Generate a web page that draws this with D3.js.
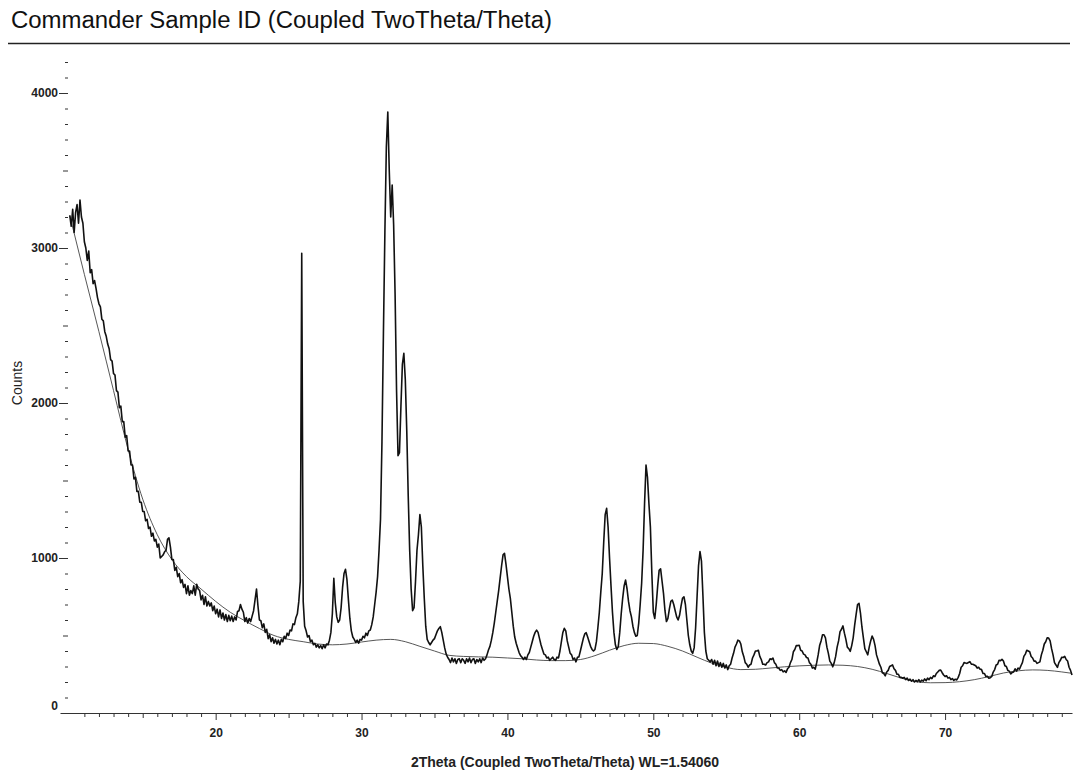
<!DOCTYPE html>
<html>
<head>
<meta charset="utf-8">
<script src="https://cdn.jsdelivr.net/npm/d3@7"></script>
<style>
body { margin: 0; background: #fff; }
svg { display: block; font-family: "Liberation Sans", Arial, sans-serif; }
</style>
</head>
<body>
<div id="chart"></div>
<script>
// scan settings (degrees 2Theta)
var scanStart = 10.0,
    scanStep = 0.1;

// measured counts, one row per degree (x.0 ... x.9)
var counts = [
  3210, 3140, 3250, 3100, 3230, 3280, 3160, 3310, 3200, 3160, // 10
  3040, 3000, 2920, 2980, 2840, 2860, 2770, 2790, 2740, 2680, // 11
  2640, 2620, 2540, 2530, 2460, 2430, 2380, 2350, 2280, 2270, // 12
  2190, 2180, 2080, 2070, 1970, 1980, 1880, 1880, 1780, 1790, // 13
  1690, 1690, 1600, 1600, 1510, 1520, 1430, 1430, 1360, 1360, // 14
  1300, 1300, 1240, 1250, 1190, 1200, 1140, 1160, 1110, 1120, // 15
  1070, 1090, 1000, 1010, 1020, 1040, 1050, 1120, 1130, 1070, // 16
  990, 990, 920, 940, 880, 900, 840, 860, 810, 830,           // 17
  770, 820, 760, 790, 770, 820, 760, 830, 800, 790,           // 18
  730, 760, 700, 750, 690, 720, 690, 710, 660, 690,           // 19
  640, 670, 620, 665, 610, 645, 600, 635, 590, 630,           // 20
  595, 625, 590, 620, 600, 655, 660, 700, 670, 650,           // 21
  590, 615, 580, 610, 590, 625, 660, 730, 800, 690,           // 22
  600, 595, 550, 575, 520, 540, 480, 505, 460, 485,           // 23
  450, 475, 445, 470, 440, 475, 460, 495, 480, 515,           // 24
  500, 535, 530, 575, 570, 615, 640, 720, 850, 2966,          // 25
  720, 560, 530, 490, 500, 460, 470, 440, 450, 425,           // 26
  440, 420, 435, 415, 440, 420, 445, 440, 470, 520,           // 27
  640, 869, 710, 620, 585, 600, 680, 810, 900, 927,           // 28
  860, 730, 610, 530, 490, 475, 455, 470, 450, 475,           // 29
  470, 495, 485, 515, 500, 530, 535, 570, 620, 700,           // 30
  780, 880, 1050, 1250, 1750, 2450, 3100, 3650, 3877, 3500,   // 31
  3200, 3406, 3150, 2700, 2080, 1660, 1680, 1980, 2250, 2320, // 32
  2150, 1820, 1400, 1050, 800, 660, 680, 850, 1050, 1150,     // 33
  1280, 1200, 950, 740, 560, 475, 455, 440, 455, 470,         // 34
  480, 505, 530, 545, 557, 520, 470, 420, 380, 360,           // 35
  345, 325, 355, 330, 350, 320, 345, 350, 325, 350,           // 36
  340, 320, 350, 330, 355, 325, 345, 350, 320, 345,           // 37
  330, 350, 325, 355, 340, 350, 375, 406, 430, 470,           // 38
  520, 580, 650, 720, 790, 870, 950, 1020, 1030, 960,         // 39
  880, 800, 740, 650, 560, 490, 450, 420, 390, 370,           // 40
  360, 345, 360, 345, 375, 390, 425, 460, 495, 520,           // 41
  535, 520, 480, 440, 410, 380, 375, 355, 360, 340,           // 42
  350, 360, 345, 340, 360, 355, 400, 460, 520, 546,           // 43
  530, 465, 425, 385, 375, 345, 355, 330, 360, 362,           // 44
  400, 440, 480, 510, 518, 490, 460, 430, 410, 400,           // 45
  410, 460, 550, 650, 780, 900, 1100, 1280, 1320, 1200,       // 46
  1000, 820, 650, 520, 440, 410, 430, 520, 640, 740,          // 47
  820, 858, 800, 720, 660, 620, 560, 520, 495, 500,           // 48
  580, 700, 837, 1050, 1350, 1600, 1520, 1350, 1200, 900,     // 49
  650, 610, 700, 820, 920, 930, 850, 770, 660, 590,           // 50
  610, 670, 720, 729, 700, 660, 620, 600, 630, 690,           // 51
  740, 750, 700, 600, 500, 440, 400, 385, 420, 550,           // 52
  750, 950, 1041, 980, 760, 520, 400, 350, 340, 330,          // 53
  345, 315, 340, 305, 335, 300, 325, 295, 320, 290,           // 54
  310, 280, 305, 315, 355, 385, 425, 445, 470, 465,           // 55
  445, 395, 365, 325, 315, 295, 310, 315, 355, 375,           // 56
  400, 400, 405, 365, 345, 315, 315, 310, 325, 330,           // 57
  350, 345, 355, 325, 315, 290, 290, 275, 280, 265,           // 58
  272, 262, 285, 295, 325, 345, 395, 410, 435, 435,           // 59
  437, 405, 400, 380, 375, 358, 355, 325, 315, 290,           // 60
  295, 283, 325, 375, 435, 465, 505, 505, 485, 425,           // 61
  385, 335, 320, 298, 325, 365, 425, 465, 525, 540,           // 62
  562, 515, 475, 425, 415, 398, 435, 485, 565, 635,           // 63
  700, 708, 645, 555, 485, 415, 395, 375, 425, 465,           // 64
  497, 475, 435, 375, 345, 315, 295, 260, 255, 240,           // 65
  265, 275, 300, 305, 310, 285, 275, 250, 250, 230,           // 66
  230, 224, 230, 215, 225, 210, 218, 205, 215, 200,           // 67
  210, 202, 215, 200, 212, 205, 220, 208, 225, 215,           // 68
  230, 222, 240, 235, 255, 265, 275, 277, 260, 245,           // 69
  235, 240, 225, 230, 215, 222, 210, 218, 213, 230,           // 70
  255, 295, 305, 325, 322, 320, 326, 331, 315, 315,           // 71
  310, 305, 290, 295, 283, 280, 255, 255, 235, 237,           // 72
  224, 228, 236, 264, 280, 310, 315, 340, 338, 346,           // 73
  335, 305, 300, 275, 270, 252, 262, 265, 285, 270,           // 74
  290, 283, 305, 325, 365, 380, 405, 400, 395, 365,           // 75
  355, 335, 335, 320, 325, 330, 375, 405, 445, 460,           // 76
  485, 483, 465, 415, 375, 325, 310, 294, 325, 340,           // 77
  360, 358, 365, 345, 335, 295, 275, 245                      // 78
];

// fitted background curve
var bgTheta  = [10, 11, 12, 13, 14, 15, 16, 17, 18, 19, 20, 21, 22, 23, 24, 25, 26, 27, 28, 29,
                30, 31, 32, 33, 34, 35, 36, 37, 38, 39, 40, 41, 42, 43, 44, 45, 46, 47, 48, 49,
                50, 51, 52, 53, 54, 55, 56, 57, 58, 59, 60, 61, 62, 63, 64, 65, 66, 67, 68, 69,
                70, 71, 72, 73, 74, 75, 76, 77, 78, 78.7];
var bgCounts = [3210, 2830, 2460, 2080, 1700, 1380, 1150, 990, 880, 800, 720, 650, 595, 545, 500, 475, 460, 445, 440, 445,
                458, 470, 475, 460, 430, 400, 372, 365, 362, 360, 355, 350, 342, 338, 338, 345, 370, 405, 435, 450,
                448, 430, 400, 360, 322, 295, 280, 282, 290, 298, 304, 308, 310, 308, 300, 282, 255, 225, 202, 195,
                196, 202, 215, 235, 258, 272, 278, 275, 265, 256];

var xLabels = [20, 30, 40, 50, 60, 70];
var xMid = [15, 25, 35, 45, 55, 65, 75];
var yLabels = [1000, 2000, 3000, 4000];

var width = 1078,
    height = 778;

var svg = d3.select("#chart")
    .append("svg")
    .attr("width", width)
    .attr("height", height);

var x = d3.scaleLinear().domain([9.33, 78.7]).range([60, 1072]);
var y = d3.scaleLinear().domain([0, 4200]).range([713, 62]);

// title and rule under it
svg.append("text")
    .attr("x", 11)
    .attr("y", 28)
    .attr("textLength", 541)
    .attr("lengthAdjust", "spacingAndGlyphs")
    .style("font-size", "23px")
    .style("fill", "#111")
    .text("Commander Sample ID (Coupled TwoTheta/Theta)");

svg.append("line")
    .attr("x1", 8).attr("x2", 1070)
    .attr("y1", 43.5).attr("y2", 43.5)
    .style("stroke", "#222")
    .style("stroke-width", 1.5);

// x axis: minor ticks every degree, medium every 5, labels every 10
var xMinor = d3.range(11, 79).filter(function(d) { return d % 5 != 0; });

svg.append("g")
    .attr("transform", "translate(0,713)")
    .call(d3.axisBottom(x).tickValues(xMinor).tickSize(4).tickSizeOuter(0).tickFormat(""));
svg.append("g")
    .attr("transform", "translate(0,713)")
    .call(d3.axisBottom(x).tickValues(xMid).tickSize(5).tickFormat(""))
    .select(".domain").remove();
svg.append("g")
    .attr("class", "xmajor")
    .attr("transform", "translate(0,713)")
    .call(d3.axisBottom(x).tickValues(xLabels).tickSize(7).tickPadding(8).tickFormat(d3.format("d")))
    .select(".domain").remove();

// y axis: dashes every 100, longer at 500s, labelled at 1000s
var yMinor = d3.range(100, 4300, 100).filter(function(d) { return d % 500 != 0; });
var yMid = [500, 1500, 2500, 3500];

svg.append("g")
    .attr("transform", "translate(68,0)")
    .call(d3.axisLeft(y).tickValues(yMinor).tickSize(3).tickFormat(""))
    .select(".domain").remove();
svg.append("g")
    .attr("transform", "translate(68,0)")
    .call(d3.axisLeft(y).tickValues(yMid).tickSize(5).tickFormat(""))
    .select(".domain").remove();
svg.append("g")
    .attr("class", "ymajor")
    .attr("transform", "translate(68,0)")
    .call(d3.axisLeft(y).tickValues(yLabels).tickSize(9).tickPadding(1).tickFormat(d3.format("d")))
    .select(".domain").remove();

// the zero label sits a little above the axis line
svg.append("text")
    .attr("x", 58)
    .attr("y", y(0) - 3)
    .attr("text-anchor", "end")
    .style("font-size", "12px")
    .style("font-weight", "bold")
    .style("fill", "#222")
    .text("0");

svg.selectAll(".tick line").style("stroke", "#333");
svg.selectAll(".domain").style("stroke", "#333");
svg.selectAll(".xmajor text, .ymajor text")
    .style("font-size", "12px")
    .style("font-weight", "bold")
    .style("fill", "#222")
    .style("font-family", "\"Liberation Sans\", Arial, sans-serif");

// axis titles
svg.append("text")
    .attr("x", 565)
    .attr("y", 767)
    .attr("text-anchor", "middle")
    .style("font-size", "14px")
    .style("font-weight", "bold")
    .style("fill", "#222")
    .text("2Theta (Coupled TwoTheta/Theta) WL=1.54060");

svg.append("text")
    .attr("transform", "translate(22,383) rotate(-90)")
    .attr("text-anchor", "middle")
    .style("font-size", "14px")
    .style("fill", "#222")
    .text("Counts");

// background curve
var bgLine = d3.line()
    .curve(d3.curveMonotoneX)
    .x(function(d, i) { return x(bgTheta[i]); })
    .y(function(d) { return y(d); });

svg.append("path")
    .datum(bgCounts)
    .attr("d", bgLine)
    .style("fill", "none")
    .style("stroke", "#444")
    .style("stroke-width", 0.9);

// measured pattern
var scanLine = d3.line()
    .x(function(d, i) { return x(scanStart + i * scanStep); })
    .y(function(d) { return y(d); });

svg.append("path")
    .datum(counts)
    .attr("d", scanLine)
    .style("fill", "none")
    .style("stroke", "#111")
    .style("stroke-width", 1.6)
    .style("stroke-linejoin", "round");
</script>
</body>
</html>
